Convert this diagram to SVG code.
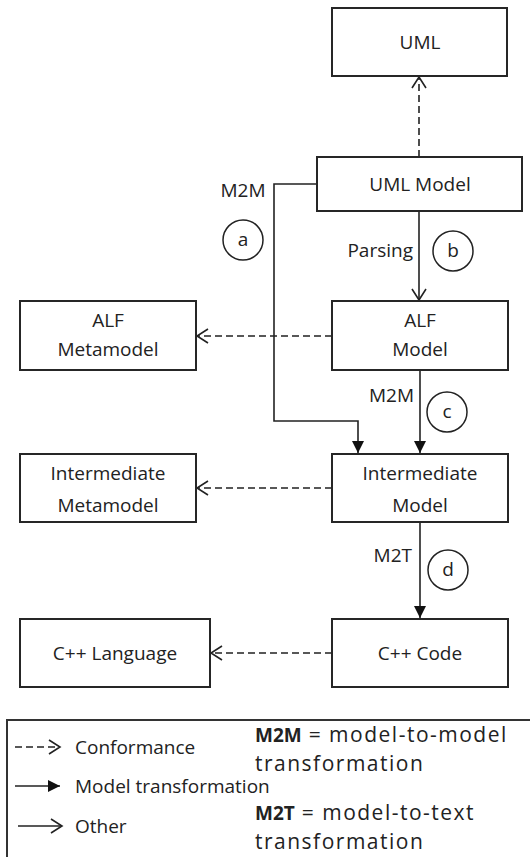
<svg xmlns="http://www.w3.org/2000/svg" width="530" height="857" viewBox="0 0 530 857">
<style>
  .box { fill: #fff; stroke: #262626; stroke-width: 2; }
  .t { font-family: "Open Sans", "Liberation Sans", sans-serif; font-size: 19px; fill: #222; text-anchor: middle; }
  .l { text-anchor: start; }
  .r { text-anchor: end; }
  .b { font-weight: bold; }
  .w { font-size: 21px; letter-spacing: 1.5px; }
  .dash { fill: none; stroke: #222; stroke-width: 1.6; stroke-dasharray: 7 4; }
  .solid { fill: none; stroke: #222; stroke-width: 1.6; }
  .circ { fill: #fff; stroke: #222; stroke-width: 1.5; }
</style>
<defs>
  <marker id="open" markerUnits="userSpaceOnUse" markerWidth="16" markerHeight="18" refX="14" refY="9" orient="auto">
    <path d="M3,2 L14,9 L3,16" fill="none" stroke="#222" stroke-width="1.6"/>
  </marker>
  <marker id="filled" markerUnits="userSpaceOnUse" markerWidth="16" markerHeight="16" refX="13" refY="7" orient="auto">
    <path d="M1,1 L13,7 L1,13 Z" fill="#111"/>
  </marker>
</defs>

<g id="connectors">
  <line class="dash" x1="419" y1="157" x2="419" y2="77" marker-end="url(#open)"/>
  <line class="solid" x1="419" y1="211" x2="419" y2="300" marker-end="url(#open)"/>
  <polyline class="solid" points="317,184 274,184 274,421 358,421 358,453" marker-end="url(#filled)"/>
  <line class="solid" x1="420" y1="370" x2="420" y2="453" marker-end="url(#filled)"/>
  <line class="solid" x1="420" y1="522" x2="420" y2="618" marker-end="url(#filled)"/>
  <line class="dash" x1="332" y1="336" x2="197" y2="336" marker-end="url(#open)"/>
  <line class="dash" x1="332" y1="488" x2="197" y2="488" marker-end="url(#open)"/>
  <line class="dash" x1="332" y1="653" x2="211" y2="653" marker-end="url(#open)"/>
</g>

<g id="uml">
  <rect class="box" x="332" y="8" width="175" height="68"/>
  <text class="t" x="420" y="49">UML</text>
</g>
<g id="uml-model">
  <rect class="box" x="317" y="157" width="205" height="54"/>
  <text class="t" x="420" y="191">UML Model</text>
</g>
<g id="alf-model">
  <rect class="box" x="332" y="301" width="176" height="69"/>
  <text class="t" x="420" y="327">ALF</text>
  <text class="t" x="420" y="356">Model</text>
</g>
<g id="alf-metamodel">
  <rect class="box" x="20" y="301" width="176" height="69"/>
  <text class="t" x="108" y="327">ALF</text>
  <text class="t" x="108" y="356">Metamodel</text>
</g>
<g id="intermediate-model">
  <rect class="box" x="332" y="454" width="176" height="68"/>
  <text class="t" x="420" y="480">Intermediate</text>
  <text class="t" x="420" y="512">Model</text>
</g>
<g id="intermediate-metamodel">
  <rect class="box" x="20" y="454" width="176" height="68"/>
  <text class="t" x="108" y="480">Intermediate</text>
  <text class="t" x="108" y="512">Metamodel</text>
</g>
<g id="cpp-code">
  <rect class="box" x="332" y="619" width="176" height="68"/>
  <text class="t" x="420" y="660">C++ Code</text>
</g>
<g id="cpp-language">
  <rect class="box" x="20" y="619" width="190" height="68"/>
  <text class="t" x="115" y="660">C++ Language</text>
</g>

<g id="labels">
  <text class="t" x="243" y="197">M2M</text>
  <circle class="circ" cx="243" cy="240" r="20"/>
  <text class="t" x="243" y="246">a</text>
  <text class="t r" x="413" y="257">Parsing</text>
  <circle class="circ" cx="453" cy="251" r="20"/>
  <text class="t" x="453" y="257">b</text>
  <text class="t r" x="414" y="402">M2M</text>
  <circle class="circ" cx="447" cy="412" r="20"/>
  <text class="t" x="447" y="418">c</text>
  <text class="t r" x="412" y="562">M2T</text>
  <circle class="circ" cx="448" cy="570" r="20"/>
  <text class="t" x="448" y="576">d</text>
</g>

<g id="legend">
  <rect x="7" y="720" width="540" height="150" fill="#fff" stroke="#333" stroke-width="2"/>
  <line class="dash" x1="15" y1="747" x2="60" y2="747" stroke-dasharray="5 4" marker-end="url(#open)"/>
  <text class="t l" x="75" y="754">Conformance</text>
  <line class="solid" x1="15" y1="786" x2="60" y2="786" marker-end="url(#filled)"/>
  <text class="t l" x="75" y="793">Model transformation</text>
  <line class="solid" x1="18" y1="826" x2="62" y2="826" marker-end="url(#open)"/>
  <text class="t l" x="75" y="833">Other</text>
  <text class="t l" x="255" y="742"><tspan class="b">M2M</tspan><tspan class="w"> = model-to-model</tspan></text>
  <text class="t l w" x="255" y="771">transformation</text>
  <text class="t l" x="255" y="820"><tspan class="b">M2T</tspan><tspan class="w"> = model-to-text</tspan></text>
  <text class="t l w" x="255" y="849">transformation</text>
</g>
</svg>
